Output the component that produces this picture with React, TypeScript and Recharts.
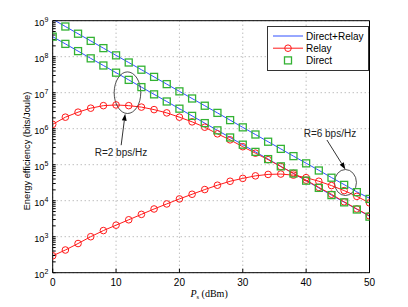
import React from 'react';
import { LineChart, Line, XAxis, YAxis, CartesianGrid, Legend, ReferenceDot } from 'recharts';

const P_DBM = [0, 2, 4, 6, 8, 10, 12, 14, 16, 18, 20, 22, 24, 26, 28, 30, 32, 34, 36, 38, 40, 42, 44, 46, 48, 50];

// R = 2 bps/Hz
const DIRECT_RELAY_R2 = [3.6e8, 2.27e8, 1.43e8, 9.0e7, 5.7e7, 3.6e7, 2.27e7, 1.43e7, 9.0e6, 5.7e6, 3.6e6, 2.27e6, 1.43e6, 9.0e5, 5.7e5, 3.6e5, 2.27e5, 1.43e5, 9.0e4, 5.7e4, 3.6e4, 2.27e4, 1.43e4, 9.1e3, 5.8e3, 3.7e3];
const RELAY_R2 = [1.32e6, 2.09e6, 2.88e6, 3.72e6, 4.37e6, 4.57e6, 4.37e6, 3.98e6, 3.39e6, 2.75e6, 2.09e6, 1.55e6, 1.1e6, 7.2e5, 4.9e5, 3.16e5, 2.09e5, 1.38e5, 8.9e4, 5.75e4, 3.72e4, 2.34e4, 1.51e4, 9.3e3, 5.9e3, 3.8e3];
const DIRECT_R2 = [3.6e8, 2.27e8, 1.43e8, 9.0e7, 5.7e7, 3.6e7, 2.27e7, 1.43e7, 9.0e6, 5.7e6, 3.6e6, 2.27e6, 1.43e6, 9.0e5, 5.7e5, 3.6e5, 2.27e5, 1.43e5, 9.0e4, 5.7e4, 3.6e4, 2.27e4, 1.43e4, 9.0e3, 5.7e3, 3.6e3];

// R = 6 bps/Hz
const DIRECT_RELAY_R6 = [1.1e9, 6.9e8, 4.35e8, 2.75e8, 1.73e8, 1.09e8, 6.9e7, 4.35e7, 2.75e7, 1.73e7, 1.09e7, 6.9e6, 4.35e6, 2.75e6, 1.73e6, 1.09e6, 6.9e5, 4.35e5, 2.75e5, 1.73e5, 1.1e5, 7.0e4, 4.4e4, 2.8e4, 1.76e4, 1.17e4];
const RELAY_R6 = [295, 427, 646, 1000, 1480, 2090, 2950, 4170, 5890, 8130, 1.12e4, 1.51e4, 2.04e4, 2.69e4, 3.47e4, 4.17e4, 4.9e4, 5.37e4, 5.5e4, 5.13e4, 4.37e4, 3.47e4, 2.63e4, 1.91e4, 1.32e4, 8.7e3];
const DIRECT_R6 = [1.1e9, 6.9e8, 4.35e8, 2.75e8, 1.73e8, 1.09e8, 6.9e7, 4.35e7, 2.75e7, 1.73e7, 1.09e7, 6.9e6, 4.35e6, 2.75e6, 1.73e6, 1.09e6, 6.9e5, 4.35e5, 2.75e5, 1.73e5, 1.09e5, 6.9e4, 4.35e4, 2.75e4, 1.73e4, 1.12e4];

const X_TICKS = [0, 10, 20, 30, 40, 50];
const Y_TICKS = [1e2, 1e3, 1e4, 1e5, 1e6, 1e7, 1e8, 1e9];
const Y_MIN = 1e2;
const Y_MAX = 1e9;
const LEGEND_ITEMS = ['Direct+Relay', 'Relay', 'Direct'];

const BLUE = '#3050ff';
const RED = '#ff1a1a';
const GREEN = '#33b233';
const FONT = '"Liberation Sans", Arial, Helvetica, sans-serif';

// log axis minor ticks (2..9 per decade) plus the decades themselves
const Y_ALL_TICKS: number[] = [];
Y_TICKS.slice(0, -1).forEach(d => {
  for (let k = 1; k < 10; k++) Y_ALL_TICKS.push(d * k);
});
Y_ALL_TICKS.push(Y_MAX);

const data = P_DBM.map((p, i) => ({
  p,
  dr2: DIRECT_RELAY_R2[i],
  r2: RELAY_R2[i],
  d2: DIRECT_R2[i],
  dr6: DIRECT_RELAY_R6[i],
  r6: RELAY_R6[i],
  d6: DIRECT_R6[i],
}));

function SquareDot(props: any) {
  const { cx, cy, value } = props;
  if (cx == null || cy == null || value > Y_MAX) return <g />;
  return <rect x={cx - 3.5} y={cy - 3.5} width={7} height={7} fill="none" stroke={GREEN} strokeWidth={1.3} />;
}

const circleDot = { r: 3.3, fill: 'none', stroke: RED, strokeWidth: 1 };

function PowTick({ x, y, payload }: any) {
  const exp = Math.log10(payload.value);
  if (Math.abs(exp - Math.round(exp)) > 1e-6) return <g />;
  return (
    <text x={x} y={y + 5.5} textAnchor="end" fontSize={9.2} fill="#000" fontFamily={FONT}>
      10<tspan dy={-4.5} fontSize={7}>{Math.round(exp)}</tspan>
    </text>
  );
}

function XLabel({ viewBox }: any) {
  const { x, y, width } = viewBox;
  return (
    <text x={x + width / 2 - 2} y={y + 24.5} textAnchor="middle" fontSize={10} fill="#000" fontFamily='"Liberation Serif", "DejaVu Serif", serif'>
      <tspan fontStyle="italic">P</tspan>
      <tspan fontSize={6.5} dy={2}>s</tspan>
      <tspan dy={-2}> (dBm)</tspan>
    </text>
  );
}

function Arrow({ x1, y1, x2, y2 }: { x1: number; y1: number; x2: number; y2: number }) {
  const dx = x2 - x1;
  const dy = y2 - y1;
  const len = Math.hypot(dx, dy);
  const ux = dx / len;
  const uy = dy / len;
  const hl = 7;
  const hw = 2.4;
  const bx = x2 - ux * hl;
  const by = y2 - uy * hl;
  const pts = `${x2},${y2} ${bx - uy * hw},${by + ux * hw} ${bx + uy * hw},${by - ux * hw}`;
  return (
    <g>
      <line x1={x1} y1={y1} x2={bx} y2={by} stroke="#000" strokeWidth={0.8} />
      <polygon points={pts} fill="#000" />
    </g>
  );
}

function Note({ cx, cy, rx, ry, from, to, textAt, label }: any) {
  return (
    <g>
      <ellipse cx={cx} cy={cy} rx={rx} ry={ry} fill="none" stroke="#222" strokeWidth={0.8} />
      <Arrow x1={cx + from[0]} y1={cy + from[1]} x2={cx + to[0]} y2={cy + to[1]} />
      <text x={cx + textAt[0]} y={cy + textAt[1]} textAnchor="middle" fontSize={10} fill="#222" fontFamily={FONT}>
        {label}
      </text>
    </g>
  );
}

function LegendBox() {
  return (
    <svg width={102} height={45} style={{ display: 'block' }}>
      <rect x={0.5} y={0.5} width={101} height={44} fill="#fff" stroke="#333" strokeWidth={1} />
      {LEGEND_ITEMS.map((name, i) => {
        const y = 10 + i * 12.2;
        return (
          <g key={name}>
            {name === 'Direct+Relay' && <line x1={6} x2={36} y1={y} y2={y} stroke={BLUE} strokeWidth={1} />}
            {name === 'Relay' && <line x1={6} x2={36} y1={y} y2={y} stroke={RED} strokeWidth={1} />}
            {name === 'Relay' && <circle cx={21} cy={y} r={3.3} fill="none" stroke={RED} strokeWidth={1} />}
            {name === 'Direct' && <rect x={17.5} y={y - 3.5} width={7} height={7} fill="none" stroke={GREEN} strokeWidth={1.3} />}
            <text x={39} y={y + 3.6} fontSize={10} fill="#000" fontFamily={FONT}>{name}</text>
          </g>
        );
      })}
    </svg>
  );
}

export default function App() {
  return (
    <div style={{ position: 'absolute', left: 0, top: 0, width: 408, height: 307, background: '#fff' }}>
      <LineChart width={408} height={307} data={data} margin={{ top: 19.7, right: 37.5, left: 0, bottom: 0 }} style={{ fontFamily: FONT }}>
        <CartesianGrid xAxisId="x" yAxisId="l" stroke="#a0a0a0" strokeDasharray="1 3" horizontalValues={Y_TICKS} />
        <XAxis
          xAxisId="x"
          dataKey="p"
          type="number"
          domain={[0, 50]}
          allowDataOverflow
          ticks={X_TICKS}
          interval={0}
          height={34.3}
          tickSize={-4}
          tickMargin={9.7}
          axisLine={{ stroke: '#000' }}
          tickLine={{ stroke: '#000' }}
          tick={{ fill: '#000', fontSize: 10 }}
          label={{ content: (p: any) => <XLabel {...p} /> }}
        />
        <XAxis xAxisId="xt" orientation="top" type="number" domain={[0, 50]} allowDataOverflow ticks={X_TICKS} interval={0} height={1} tick={false} tickSize={-4} axisLine={{ stroke: '#000' }} tickLine={{ stroke: '#000' }} />
        <YAxis
          yAxisId="l"
          scale="log"
          type="number"
          domain={[Y_MIN, Y_MAX]}
          allowDataOverflow
          ticks={Y_ALL_TICKS}
          interval={0}
          width={52.7}
          tickSize={-3}
          tickMargin={7.4}
          axisLine={{ stroke: '#000' }}
          tickLine={{ stroke: '#000' }}
          tick={<PowTick />}
        />
        <YAxis yAxisId="r" orientation="right" scale="log" type="number" domain={[Y_MIN, Y_MAX]} allowDataOverflow ticks={Y_ALL_TICKS} interval={0} width={1} tick={false} tickSize={-3} axisLine={{ stroke: '#000' }} tickLine={{ stroke: '#000' }} />

        <Line xAxisId="x" yAxisId="l" dataKey="dr2" name="Direct+Relay" stroke={BLUE} strokeWidth={1} dot={false} isAnimationActive={false} />
        <Line xAxisId="x" yAxisId="l" dataKey="dr6" name="Direct+Relay" stroke={BLUE} strokeWidth={1} dot={false} isAnimationActive={false} />
        <Line xAxisId="x" yAxisId="l" dataKey="r2" name="Relay" stroke={RED} strokeWidth={1} dot={circleDot} isAnimationActive={false} />
        <Line xAxisId="x" yAxisId="l" dataKey="r6" name="Relay" stroke={RED} strokeWidth={1} dot={circleDot} isAnimationActive={false} />
        <Line xAxisId="x" yAxisId="l" dataKey="d2" name="Direct" stroke="none" dot={(p: any) => <SquareDot key={p.index} {...p} />} isAnimationActive={false} />
        <Line xAxisId="x" yAxisId="l" dataKey="d6" name="Direct" stroke="none" dot={(p: any) => <SquareDot key={p.index} {...p} />} isAnimationActive={false} />

        <ReferenceDot
          xAxisId="x"
          yAxisId="l"
          x={11.8}
          y={1.0e7}
          r={0}
          shape={(p: any) => <Note cx={p.cx} cy={p.cy} rx={13.3} ry={20.8} from={[-6.3, 52.5]} to={[-2.3, 21]} textAt={[-6.5, 63.5]} label="R=2 bps/Hz" />}
        />
        <ReferenceDot
          xAxisId="x"
          yAxisId="l"
          x={46.2}
          y={3.2e4}
          r={0}
          shape={(p: any) => <Note cx={p.cx} cy={p.cy} rx={11} ry={13} from={[-18.5, -42.5]} to={[0, -13]} textAt={[-15.5, -45.5]} label="R=6 bps/Hz" />}
        />

        <Legend
          layout="horizontal"
          verticalAlign="middle"
          align="center"
          wrapperStyle={{ position: 'absolute', left: 267, top: 25.5, width: 102, height: 45 }}
          content={() => <LegendBox />}
        />
      </LineChart>
      <div
        style={{
          position: 'absolute',
          left: 26.5,
          top: 151,
          transform: 'translate(-50%, -50%) rotate(-90deg)',
          whiteSpace: 'nowrap',
          fontFamily: FONT,
          fontSize: 9.3,
          lineHeight: '10px',
          color: '#000',
        }}
      >
        Energy efficiency (bits/Joule)
      </div>
    </div>
  );
}
